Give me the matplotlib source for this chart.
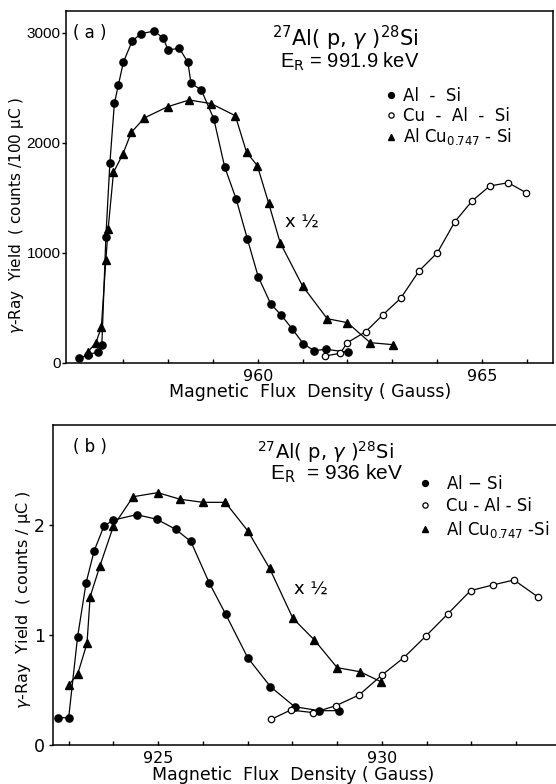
import matplotlib
matplotlib.use("Agg")
import matplotlib.pyplot as plt
from matplotlib.lines import Line2D
from matplotlib.ticker import FixedLocator

plt.rcParams['font.family'] = ['DejaVu Sans']
plt.rcParams['mathtext.fontset'] = 'dejavusans'

# ---------------- Panel (a): E_R = 991.9 keV ----------------
a_alsi_x = [956.02, 956.22, 956.43, 956.52, 956.61, 956.70, 956.80, 956.89, 957.00, 957.20,
            957.40, 957.69, 957.89, 958.00, 958.25, 958.44, 958.51, 958.74, 959.02, 959.26,
            959.52, 959.77, 960.01, 960.29, 960.52, 960.77, 961.02, 961.26, 961.52, 962.01]
a_alsi_y = [40, 73, 97, 161, 1145, 1818, 2358, 2525, 2731, 2927,
            2991, 3015, 2949, 2843, 2858, 2731, 2540, 2479, 2215, 1782,
            1485, 1122, 782, 534, 434, 307, 170, 109, 122, 95]

a_cualsi_x = [961.50, 961.84, 962.00, 962.41, 962.79, 963.19, 963.60, 964.01, 964.40,
              964.79, 965.18, 965.59, 965.99]
a_cualsi_y = [61, 85, 182, 282, 434, 585, 834, 1000, 1282, 1473, 1606, 1636, 1545]

a_alcu_x = [956.20, 956.39, 956.51, 956.61, 956.66, 956.78, 956.99, 957.18, 957.47, 957.99,
            958.47, 958.96, 959.50, 959.75, 959.99, 960.24, 960.50, 961.00, 961.55, 962.00,
            962.51, 963.01]
a_alcu_y = [95, 182, 327, 934, 1213, 1730, 1897, 2095, 2225, 2327,
            2388, 2355, 2245, 1913, 1791, 1455, 1091, 697, 400, 364,
            182, 164]

# ---------------- Panel (b): E_R = 936 keV ----------------
b_alsi_x = [922.77, 923.00, 923.20, 923.39, 923.57, 923.79, 924.00, 924.52, 924.97, 925.39,
            925.73, 926.14, 926.51, 927.00, 927.51, 928.05, 928.60, 929.03]
b_alsi_y = [0.248, 0.248, 0.985, 1.475, 1.766, 1.991, 2.045, 2.094, 2.052, 1.961,
            1.850, 1.475, 1.188, 0.794, 0.530, 0.348, 0.312, 0.312]

b_cualsi_x = [927.53, 927.96, 928.47, 928.97, 929.49, 930.00, 930.49, 930.99, 931.47,
              931.98, 932.48, 932.95, 933.48]
b_cualsi_y = [0.234, 0.318, 0.294, 0.357, 0.455, 0.636, 0.794, 0.994, 1.191,
              1.403, 1.455, 1.500, 1.348]

b_alcu_x = [923.00, 923.20, 923.41, 923.48, 923.70, 924.00, 924.44, 924.99, 925.49, 926.00,
            926.50, 927.00, 927.49, 928.01, 928.49, 929.00, 929.51, 929.98]
b_alcu_y = [0.545, 0.643, 0.925, 1.348, 1.630, 1.990, 2.257, 2.294, 2.234, 2.206,
            2.206, 1.948, 1.606, 1.152, 0.955, 0.703, 0.666, 0.575]

legend_labels_a = ["Al  -  Si", "Cu  -  Al  -  Si", r"Al Cu$_{0.747}$ - Si"]
legend_labels_b = ["Al $-$ Si", "Cu - Al - Si", r"Al Cu$_{0.747}$ -Si"]

W, H = 556, 784
fig = plt.figure(figsize=(W / 100, H / 100), dpi=100)


def frac_box(l, t, r, b):
    return [l / W, 1 - b / H, (r - l) / W, (b - t) / H]


def ftext(x, y, s, **kw):
    fig.text(x / W, 1 - y / H, s, **kw)


line_kw = dict(color='k', lw=0.9)


def draw(ax, xs, ys, style):
    if style == 'filled':
        ax.plot(xs, ys, marker='o', ms=5.2, mfc='k', mec='k', **line_kw)
    elif style == 'open':
        ax.plot(xs, ys, marker='o', ms=4.6, mfc='white', mec='k', mew=0.9, **line_kw)
    else:
        ax.plot(xs, ys, marker='^', ms=5.8, mfc='k', mec='k', **line_kw)


def style_axes(ax):
    for s in ax.spines.values():
        s.set_linewidth(1.1)
    ax.tick_params(axis='x', which='both', direction='in', length=3, width=1.0,
                   labelsize=11.5, pad=4, top=False)
    ax.tick_params(axis='y', which='both', direction='out', length=3, width=1.0,
                   labelsize=10.5, pad=1, right=False)


handles = [Line2D([], [], marker='o', ms=4.2, mfc='k', mec='k', ls='none'),
           Line2D([], [], marker='o', ms=3.8, mfc='white', mec='k', mew=0.9, ls='none'),
           Line2D([], [], marker='^', ms=4.4, mfc='k', mec='k', ls='none')]

# ---- panel a ----
axa = fig.add_axes(frac_box(66, 11, 553, 363))
draw(axa, a_alsi_x, a_alsi_y, 'filled')
draw(axa, a_alcu_x, a_alcu_y, 'tri')
draw(axa, a_cualsi_x, a_cualsi_y, 'open')
axa.set_xlim(955.72, 966.59)
axa.set_ylim(-3, 3197)
axa.xaxis.set_major_locator(FixedLocator([960, 965]))
axa.xaxis.set_minor_locator(FixedLocator([957, 958, 959, 961, 962, 963, 964, 966]))
axa.yaxis.set_major_locator(FixedLocator([0, 1000, 2000, 3000]))
style_axes(axa)
for lab in axa.get_yticklabels():
    lab.set_family('Liberation Sans')
    lab.set_fontsize(11)
axa.legend(handles, legend_labels_a, loc='upper left', bbox_to_anchor=(0.653, 0.784),
           frameon=False, fontsize=12, borderpad=0, borderaxespad=0,
           handlelength=0.8, handletextpad=0.35, labelspacing=0.1)

ftext(73, 33, "( a )", fontsize=12, va='center', ha='left')
ftext(272, 38, r"$^{27}$Al( p, $\gamma$ )$^{28}$Si", fontsize=15, va='center', ha='left')
ftext(280, 62, r"E$_\mathrm{R}$ = 991.9 keV", fontsize=14.5, va='center', ha='left',
      family='Liberation Sans')
ftext(285, 223, "x ½", fontsize=13, va='center', ha='left')
ftext(17, 215, r"$\gamma$-Ray  Yield  ( counts /100 μC )", fontsize=11, rotation=90,
      va='center', ha='center')
ftext(310, 392, "Magnetic  Flux  Density ( Gauss)", fontsize=12.5, va='center', ha='center')

# ---- panel b ----
axb = fig.add_axes(frac_box(53, 425, 556, 745))
draw(axb, b_alsi_x, b_alsi_y, 'filled')
draw(axb, b_alcu_x, b_alcu_y, 'tri')
draw(axb, b_cualsi_x, b_cualsi_y, 'open')
axb.set_xlim(922.65, 933.89)
axb.set_ylim(0, 2.909)
axb.xaxis.set_major_locator(FixedLocator([925, 930]))
axb.xaxis.set_minor_locator(FixedLocator([923, 924, 926, 927, 928, 929, 931, 932, 933]))
axb.yaxis.set_major_locator(FixedLocator([0, 1, 2]))
style_axes(axb)
axb.tick_params(axis='y', labelsize=12.5, pad=3)
axb.spines['right'].set_visible(False)
axb.legend(handles, legend_labels_b, loc='upper left', bbox_to_anchor=(0.726, 0.844),
           frameon=False, fontsize=12, borderpad=0, borderaxespad=0,
           handlelength=0.8, handletextpad=0.85, labelspacing=0.25)

ftext(73, 447, "( b )", fontsize=12, va='center', ha='left')
ftext(257, 452, r"$^{27}$Al( p, $\gamma$ )$^{28}$Si", fontsize=14, va='center', ha='left')
ftext(270, 474, r"E$_\mathrm{R}$  = 936 keV", fontsize=15, va='center', ha='left',
      family='Liberation Sans')
ftext(294, 590, "x ½", fontsize=13, va='center', ha='left')
ftext(24, 600, r"$\gamma$-Ray  Yield  ( counts / μC )", fontsize=11.5, rotation=90,
      va='center', ha='center')
ftext(293, 775, "Magnetic  Flux  Density ( Gauss)", fontsize=12.5, va='center', ha='center')

fig.savefig("out.png", dpi=100)
